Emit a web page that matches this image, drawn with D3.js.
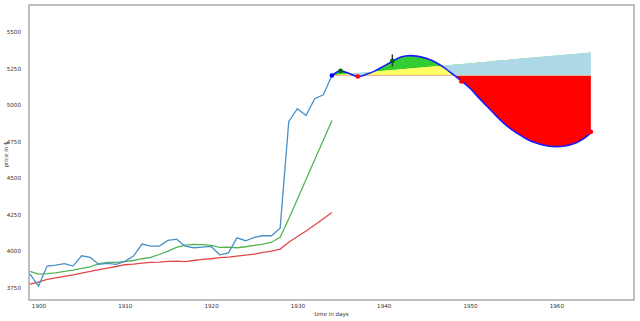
<!DOCTYPE html>
<html>
<head>
<meta charset="utf-8">
<script src="https://cdn.jsdelivr.net/npm/d3@7"></script>
<style>
  body { margin: 0; background: #fff; }
  svg { display: block; }
</style>
</head>
<body>
<div id="chart"></div>
<script>
// history 1899..1934
const years = d3.range(1899, 1935)
const price = [3845, 3761, 3898, 3904, 3914, 3898, 3968, 3957, 3909, 3916, 3909, 3930, 3966, 4048, 4034, 4034, 4073, 4082, 4034, 4023,
  4027, 4032, 3975, 3988, 4091, 4071, 4094, 4105, 4105, 4157, 4886, 4973, 4927, 5042, 5068, 5200]
const fastAvg = [3862, 3843, 3846, 3852, 3861, 3870, 3882, 3893, 3914, 3923, 3923, 3928, 3936, 3948, 3957, 3977, 4000, 4025, 4041, 4046,
  4044, 4039, 4025, 4027, 4023, 4030, 4039, 4048, 4061, 4094, 4221, 4355, 4490, 4624, 4758, 4893]
const slowAvg = [3775, 3788, 3807, 3817, 3827, 3837, 3850, 3861, 3873, 3884, 3895, 3907, 3911, 3918, 3923, 3925, 3930, 3932, 3928, 3936,
  3943, 3948, 3955, 3959, 3966, 3973, 3980, 3991, 4000, 4014, 4061, 4100, 4137, 4178, 4221, 4264]

// forecast 1934..1964
const fYears = d3.range(1934, 1965)
const forecast = [5200, 5232, 5214, 5193, 5208, 5232, 5264, 5298, 5326, 5336, 5331, 5316, 5291, 5254, 5209, 5163, 5113, 5049, 4988, 4926,
  4870, 4824, 4786, 4753, 4733, 4719, 4714, 4719, 4733, 4762, 4808]
const baseValue = 5200
const trendStart = [1934, 5202]
const trendEnd = [1964, 5357]

const startPoint = [1934, 5200]
const peakYears = [1935, 1941]
const peakValues = [5232, 5300]
const troughYears = [1937, 1949, 1964]
const troughValues = [5193, 5160, 4815]
const errYear = 1941
const errLow = 5262
const errHigh = 5344

const xTicks = [1900, 1910, 1920, 1930, 1940, 1950, 1960]
const yTicks = [3750, 4000, 4250, 4500, 4750, 5000, 5250, 5500]

const width = 640
const height = 321
const margin = { top: 5, right: 6, bottom: 21, left: 29 }
const fontSize = '5.6px'

const svg = d3.select('#chart').append('svg')
  .attr('width', width)
  .attr('height', height)
  .style('font-family', 'DejaVu Sans, sans-serif')

const x = d3.scaleLinear().domain([1898.9, 1969.0]).range([margin.left, width - margin.right])
const y = d3.scaleLinear().domain([3666, 5682]).range([height - margin.bottom, margin.top])

const trend = d3.scaleLinear().domain([trendStart[0], trendEnd[0]]).range([trendStart[1], trendEnd[1]])
const fc = fYears.map((yr, i) => ({ yr, v: forecast[i], t: trend(yr) }))

const defs = svg.append('defs')
const plotTop = margin.top
const plotBottom = height - margin.bottom

// clip: above the base level
defs.append('clipPath').attr('id', 'aboveBase')
  .append('rect')
  .attr('x', 0).attr('y', plotTop)
  .attr('width', width).attr('height', y(baseValue) - plotTop)
// clip: below the base level
defs.append('clipPath').attr('id', 'belowBase')
  .append('rect')
  .attr('x', 0).attr('y', y(baseValue))
  .attr('width', width).attr('height', plotBottom - y(baseValue))
// clip: above the trend line
defs.append('clipPath').attr('id', 'aboveTrend')
  .append('path')
  .attr('d', d3.area()
    .x(d => x(d.yr))
    .y0(plotTop)
    .y1(d => y(d.t))(fc))

const curve = d3.curveMonotoneX

// light blue wedge between base and trend
svg.append('path')
  .attr('d', d3.area().x(d => x(d.yr)).y0(y(baseValue)).y1(d => y(d.t))(fc))
  .style('fill', '#add8e6')

// yellow: base -> forecast where above base
svg.append('path')
  .attr('clip-path', 'url(#aboveBase)')
  .attr('d', d3.area().curve(curve).x(d => x(d.yr)).y0(y(baseValue)).y1(d => y(d.v))(fc))
  .style('fill', '#ffff66')

// green: trend -> forecast where above trend
svg.append('path')
  .attr('clip-path', 'url(#aboveTrend)')
  .attr('d', d3.area().curve(curve).x(d => x(d.yr)).y0(d => y(d.t)).y1(d => y(d.v))(fc))
  .style('fill', '#32cd32')

// red: forecast -> base where below base
svg.append('path')
  .attr('clip-path', 'url(#belowBase)')
  .attr('d', d3.area().curve(curve).x(d => x(d.yr)).y0(y(baseValue)).y1(d => y(d.v))(fc))
  .style('fill', '#ff0000')

// history lines
const lineOf = vals => d3.line().x((d, i) => x(years[i])).y(d => y(d))(vals)
svg.append('path').attr('d', lineOf(slowAvg))
  .style('fill', 'none').style('stroke', '#e04848').style('stroke-width', 1.3)
svg.append('path').attr('d', lineOf(fastAvg))
  .style('fill', 'none').style('stroke', '#55b355').style('stroke-width', 1.3)
svg.append('path').attr('d', lineOf(price))
  .style('fill', 'none').style('stroke', '#4891c8').style('stroke-width', 1.3)

// forecast curve
svg.append('path')
  .attr('d', d3.line().curve(curve).x(d => x(d.yr)).y(d => y(d.v))(fc))
  .style('fill', 'none').style('stroke', '#1a1aff').style('stroke-width', 1.6)

// error bar
svg.append('line')
  .attr('x1', x(errYear)).attr('x2', x(errYear))
  .attr('y1', y(errLow)).attr('y2', y(errHigh))
  .style('stroke', '#333').style('stroke-width', 1.4)

// markers
svg.append('circle')
  .attr('cx', x(startPoint[0])).attr('cy', y(startPoint[1])).attr('r', 2.3)
  .style('fill', '#0000ff')
svg.selectAll('circle.peak').data(peakYears).enter()
  .append('circle').classed('peak', true)
  .attr('cx', d => x(d)).attr('cy', (d, i) => y(peakValues[i])).attr('r', 2.3)
  .style('fill', '#006400')
svg.selectAll('circle.trough').data(troughYears).enter()
  .append('circle').classed('trough', true)
  .attr('cx', d => x(d)).attr('cy', (d, i) => y(troughValues[i])).attr('r', 2.3)
  .style('fill', '#ff0000')

// axes
const xAxis = svg.append('g')
  .attr('transform', `translate(0,${plotBottom})`)
  .call(d3.axisBottom(x).tickValues(xTicks).tickFormat(d3.format('d')).tickSize(0).tickPadding(4))
const yAxis = svg.append('g')
  .attr('transform', `translate(${margin.left},0)`)
  .call(d3.axisLeft(y).tickValues(yTicks).tickFormat(d3.format('d')).tickSize(0).tickPadding(8))
xAxis.select('.domain').remove()
yAxis.select('.domain').remove()
svg.selectAll('.tick text').style('font-size', fontSize).style('fill', '#333').style('font-family', 'DejaVu Sans, sans-serif')

// frame
svg.append('rect')
  .attr('x', margin.left).attr('y', plotTop)
  .attr('width', width - margin.right - margin.left).attr('height', plotBottom - plotTop)
  .style('fill', 'none').style('stroke', '#808080').style('stroke-width', 1)

// labels
svg.append('text')
  .attr('x', (margin.left + width - margin.right) / 2).attr('y', 316)
  .attr('text-anchor', 'middle')
  .style('font-size', fontSize).style('fill', '#333')
  .text('time in days')
svg.append('text')
  .attr('transform', `translate(8,${(plotTop + plotBottom) / 2 + 2}) rotate(-90)`)
  .attr('text-anchor', 'middle')
  .style('font-size', fontSize).style('fill', '#333')
  .text('price in $')
</script>
</body>
</html>
